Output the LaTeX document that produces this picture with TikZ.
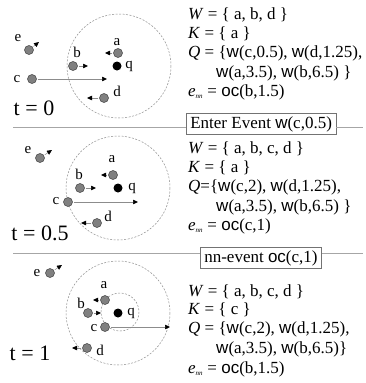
\documentclass[tikz,border=0pt]{standalone}
\usepackage{fontspec}
\setmainfont{Liberation Serif}
\setsansfont{Liberation Sans}
\usetikzlibrary{arrows.meta}
\newcommand\wfn{\textsf{w}}
\newcommand\ocfn{\textsf{oc}}
\newcommand\enn{\textit{e}\textsubscript{\textit{\scriptsize nn}}}
\begin{document}
\begin{tikzpicture}[x=1pt,y=-1pt,
  obj/.style={circle,draw=black!75,fill=black!50,line width=0.5pt,minimum size=9pt,inner sep=0pt},
  qry/.style={circle,fill=black,minimum size=9pt,inner sep=0pt},
  mv/.style={draw=black!45,line width=0.5pt,-{Triangle[length=5pt,width=4.5pt,color=black]},shorten <=1pt},
  rng/.style={draw=black!45,dashed,dash pattern=on 2pt off 1.5pt,line width=0.5pt},
  lbl/.style={font=\fontsize{15}{15}\selectfont,inner sep=0pt},
  tlbl/.style={font=\fontsize{22}{22}\selectfont,inner sep=0pt},
  info/.style={font=\fontsize{17}{19}\selectfont,inner sep=0pt,anchor=base west},
  evbox/.style={draw=black!55,line width=0.6pt,font=\fontsize{17}{19}\selectfont,inner xsep=4pt,inner ysep=3pt,anchor=west},
  sep/.style={draw=black!35,line width=0.7pt}]
\useasboundingbox (0,0) rectangle (366,383);

% ---------- t = 0 ----------
\draw[rng] (119,66) circle (52);
\node[qry] (q1) at (117,66) {};
\node[obj] (a1) at (118,53) {};
\node[obj] (b1) at (73,66) {};
\node[obj] (c1) at (32,79) {};
\node[obj] (d1) at (104,98) {};
\node[obj] (e1) at (29,50) {};
\coordinate (a1h) at (105,53);
\coordinate (b1h) at (88,66);
\coordinate (c1h) at (107,79);
\coordinate (d1h) at (87,98);
\coordinate (e1h) at (39,42);
\draw[mv] (a1) -- (a1h);
\draw[mv] (b1) -- (b1h);
\draw[mv] (c1) -- (c1h);
\draw[mv] (d1) -- (d1h);
\draw[mv] (e1) -- (e1h);
\node[lbl] (la1) at (117,42) {a};
\node[lbl] (lb1) at (77,52) {b};
\node[lbl] (lc1) at (17,79) {c};
\node[lbl] (ld1) at (117,91) {d};
\node[lbl] (le1) at (18,38) {e};
\node[lbl] (lq1) at (129,66) {q};
\node[tlbl] (t1) at (34,108) {t = 0};

\node[info] (w1) at (188,19) {\textit{W} = \{ a, b, d \}};
\node[info] (k1) at (188,38) {\textit{K} = \{ a \}};
\node[info] (p1) at (188,57) {\textit{Q} = \{\wfn(c,0.5), \wfn(d,1.25),};
\node[info] (r1) at (216,77) {\wfn(a,3.5), \wfn(b,6.5) \}};
\node[info] (n1) at (188,96) {\enn{} = \ocfn(b,1.5)};

\node[evbox] (ev1) at (186,124) {Enter Event \wfn(c,0.5)};
\coordinate (s1l) at (13,127);
\coordinate (s1r) at (363,127);
\draw[sep] (s1l) -- (s1l -| ev1.west);
\draw[sep] (s1r -| ev1.east) -- (s1r);

% ---------- t = 0.5 ----------
\draw[rng] (118,188) circle (52);
\node[qry] (q2) at (118,188) {};
\node[obj] (a2) at (113,175) {};
\node[obj] (b2) at (80,188) {};
\node[obj] (c2) at (68,202) {};
\node[obj] (d2) at (97,223) {};
\node[obj] (e2) at (40,158) {};
\coordinate (a2h) at (101,175);
\coordinate (b2h) at (96,188);
\coordinate (c2h) at (138,202);
\coordinate (d2h) at (81,223);
\coordinate (e2h) at (52,150);
\draw[mv] (a2) -- (a2h);
\draw[mv] (b2) -- (b2h);
\draw[mv] (c2) -- (c2h);
\draw[mv] (d2) -- (d2h);
\draw[mv] (e2) -- (e2h);
\node[lbl] (la2) at (112,159) {a};
\node[lbl] (lb2) at (79,174) {b};
\node[lbl] (lc2) at (56,201) {c};
\node[lbl] (ld2) at (108,216) {d};
\node[lbl] (le2) at (28,150) {e};
\node[lbl] (lq2) at (132,188) {q};
\node[tlbl] (t2) at (40,233) {t = 0.5};

\node[info] (w2) at (188,153) {\textit{W} = \{ a, b, c, d \}};
\node[info] (k2) at (188,172) {\textit{K} = \{ a \}};
\node[info] (p2) at (188,191) {\textit{Q}=\{\wfn(c,2), \wfn(d,1.25),};
\node[info] (r2) at (216,211) {\wfn(a,3.5), \wfn(b,6.5) \}};
\node[info] (n2) at (188,230) {\enn{} = \ocfn(c,1)};

\node[evbox] (ev2) at (200,258) {nn-event \ocfn(c,1)};
\coordinate (s2l) at (13,253);
\coordinate (s2r) at (363,253);
\draw[sep] (s2l) -- (s2l -| ev2.west);
\draw[sep] (s2r -| ev2.east) -- (s2r);

% ---------- t = 1 ----------
\draw[rng] (118,313) circle (52);
\draw[rng] (120,312) circle (19);
\node[qry] (q3) at (118,313) {};
\node[obj] (a3) at (105,300) {};
\node[obj] (b3) at (88,313) {};
\node[obj] (c3) at (105,327) {};
\node[obj] (d3) at (87,348) {};
\node[obj] (e3) at (50,273) {};
\coordinate (a3h) at (93,300);
\coordinate (b3h) at (101,313);
\coordinate (c3h) at (170,327);
\coordinate (d3h) at (72,348);
\coordinate (e3h) at (62,265);
\draw[mv] (a3) -- (a3h);
\draw[mv] (b3) -- (b3h);
\draw[mv] (c3) -- (c3h);
\draw[mv] (d3) -- (d3h);
\draw[mv] (e3) -- (e3h);
\node[lbl] (la3) at (104,285) {a};
\node[lbl] (lb3) at (81,303) {b};
\node[lbl] (lc3) at (94,328) {c};
\node[lbl] (ld3) at (100,350) {d};
\node[lbl] (le3) at (37,273) {e};
\node[lbl] (lq3) at (131,313) {q};
\node[tlbl] (t3) at (30,353) {t = 1};

\node[info] (w3) at (188,296) {\textit{W} = \{ a, b, c, d \}};
\node[info] (k3) at (188,314) {\textit{K} = \{ c \}};
\node[info] (p3) at (188,333) {\textit{Q} = \{\wfn(c,2), \wfn(d,1.25),};
\node[info] (r3) at (216,353) {\wfn(a,3.5), \wfn(b,6.5)\}};
\node[info] (n3) at (188,373) {\enn{} = \ocfn(b,1.5)};
\end{tikzpicture}
\end{document}
